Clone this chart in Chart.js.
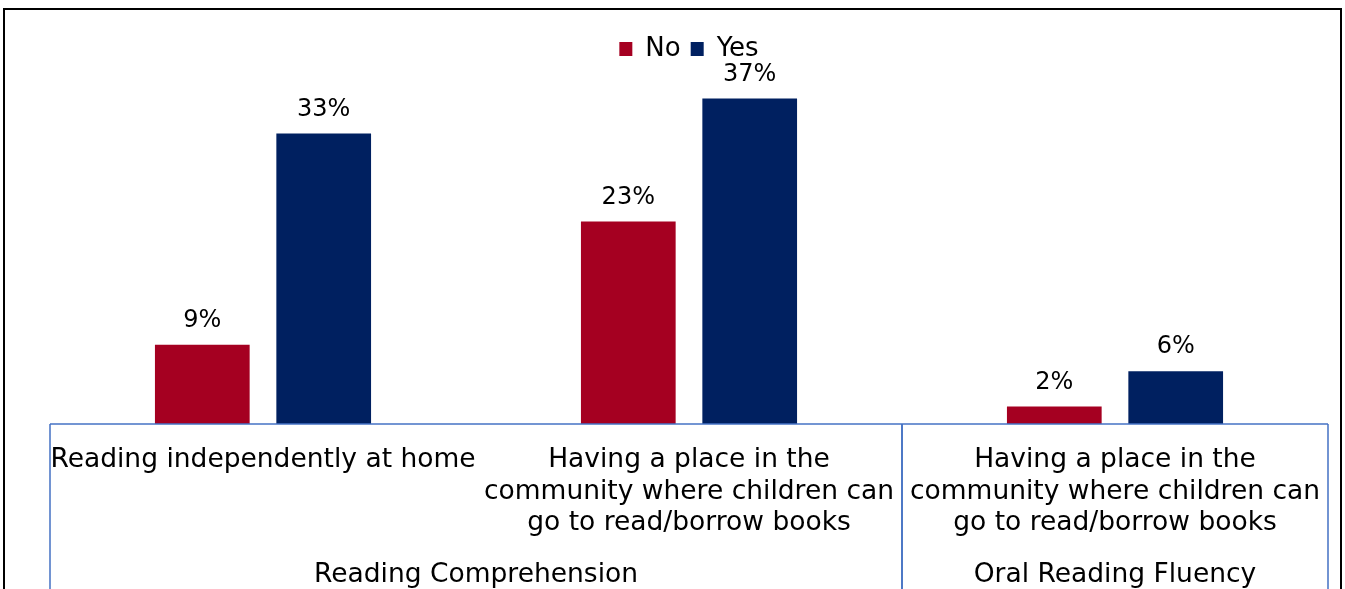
<!DOCTYPE html>
<html>
<head>
<meta charset="utf-8">
<script src="https://cdn.jsdelivr.net/npm/chart.js@4"></script>
<style>
  body { margin: 0; background: #fff; }
  canvas { display: block; }
</style>
</head>
<body>
<canvas id="grafico" width="1345" height="589"></canvas>
<script>
const categorias = [
    ["Reading independently at home"],
    ["Having a place in the", "community where children can", "go to read/borrow books"],
    ["Having a place in the", "community where children can", "go to read/borrow books"]
];
const grupos = ["Reading Comprehension", "Oral Reading Fluency"];
const grupoTamanho = [2, 1];
const valoresNo = [9, 23, 2];
const valoresYes = [33, 37, 6];

const fonte = "'DejaVu Sans', sans-serif";
const corEixo = '#4472C4';

// rótulos de valor em cima das barras
const rotulos = {
    id: 'rotulos',
    afterDatasetsDraw(chart) {
        const ctx = chart.ctx;
        ctx.save();
        ctx.font = '24px ' + fonte;
        ctx.fillStyle = '#000';
        ctx.textAlign = 'center';
        ctx.textBaseline = 'bottom';
        chart.data.datasets.forEach((ds, i) => {
            chart.getDatasetMeta(i).data.forEach((bar, j) => {
                ctx.fillText(ds.data[j] + '%', bar.x, bar.y - 12);
            });
        });
        ctx.restore();
    }
};

// caixa do eixo com os grupos de categorias + moldura externa
const eixoGrupos = {
    id: 'eixoGrupos',
    afterDraw(chart) {
        const ctx = chart.ctx;
        const x = chart.scales.x;
        const area = chart.chartArea;
        const base = area.bottom;
        const fundo = chart.height + 5;
        const meia = (x.getPixelForValue(1) - x.getPixelForValue(0)) / 2;

        ctx.save();
        ctx.strokeStyle = corEixo;
        ctx.lineWidth = 1.5;
        ctx.beginPath();
        ctx.moveTo(area.left, base);
        ctx.lineTo(area.right, base);
        ctx.stroke();

        ctx.font = '26.5px ' + fonte;
        ctx.fillStyle = '#000';
        ctx.textAlign = 'center';
        ctx.textBaseline = 'middle';
        let inicio = 0;
        grupos.forEach((g, i) => {
            const esq = x.getPixelForValue(inicio) - meia;
            const dir = x.getPixelForValue(inicio + grupoTamanho[i] - 1) + meia;
            ctx.beginPath();
            ctx.moveTo(esq, base);
            ctx.lineTo(esq, fundo);
            ctx.moveTo(dir, base);
            ctx.lineTo(dir, fundo);
            ctx.stroke();
            ctx.fillText(g, (esq + dir) / 2, base + 151);
            inicio += grupoTamanho[i];
        });

        ctx.strokeStyle = '#000';
        ctx.lineWidth = 2;
        ctx.strokeRect(4, 9, chart.width - 8, chart.height + 20);
        ctx.restore();
    }
};

new Chart(document.getElementById('grafico'), {
    type: 'bar',
    data: {
        labels: categorias,
        datasets: [
            { label: 'No', data: valoresNo, backgroundColor: '#A50021' },
            { label: 'Yes', data: valoresYes, backgroundColor: '#002060' }
        ]
    },
    options: {
        responsive: false,
        animation: false,
        devicePixelRatio: 1,
        categoryPercentage: 0.57,
        barPercentage: 0.78,
        layout: { padding: { left: 50, right: 17, top: 26, bottom: 0 } },
        plugins: {
            tooltip: { enabled: false },
            legend: {
                position: 'top',
                labels: {
                    color: '#000',
                    font: { family: fonte, size: 26 },
                    boxWidth: 13,
                    boxHeight: 14,
                    padding: 10
                }
            }
        },
        scales: {
            x: {
                grid: { display: false, drawTicks: false },
                border: { display: false },
                ticks: {
                    color: '#000',
                    font: { family: fonte, size: 26.5, lineHeight: 1.2 },
                    padding: 20,
                    maxRotation: 0,
                    minRotation: 0,
                    autoSkip: false
                },
                afterFit(scale) { scale.height = 165; }
            },
            y: {
                display: false,
                min: 0,
                max: 40
            }
        }
    },
    plugins: [rotulos, eixoGrupos]
});
</script>
</body>
</html>
